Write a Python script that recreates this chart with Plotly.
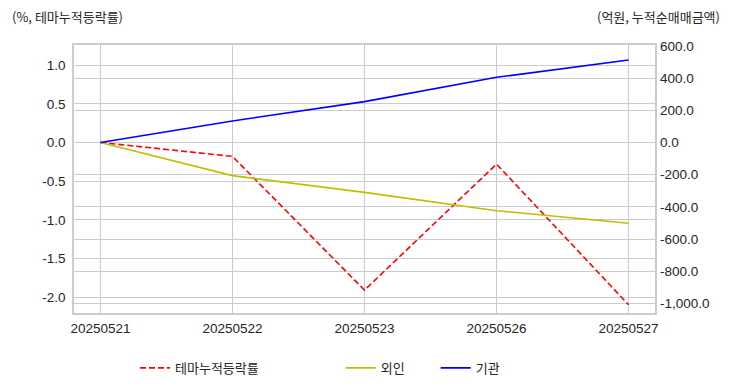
import plotly.graph_objects as go

dates = ["20250521", "20250522", "20250523", "20250526", "20250527"]
theme_pct = [0.0, -0.18, -1.91, -0.28, -2.10]
foreign_amt = [0.0, -206.0, -310.0, -424.0, -502.0]
inst_amt = [0.0, 134.0, 254.0, 405.0, 513.0]

left_ticks = [-2.0, -1.5, -1.0, -0.5, 0.0, 0.5, 1.0]
right_ticks = [-1000, -800, -600, -400, -200, 0, 200, 400, 600]
left_labels = [f"{v:.1f}" for v in left_ticks]
right_labels = [f"{v:,.1f}" for v in right_ticks]

FONT = "Liberation Sans, Arial, Noto Sans CJK KR, sans-serif"
KFONT = "Noto Sans CJK KR, Liberation Sans, sans-serif"
GRID = "#cccccc"
TXT = "#262626"

# page body has an 8px margin: figure is drawn at (8, 8)
W, H = 724, 384
L, T = 66, 37
PW, PH = 581, 268

fig = go.Figure()
fig.add_trace(go.Scatter(x=dates, y=theme_pct, mode="lines", name="테마누적등락률",
                         line=dict(color="#ff0000", width=1.6, dash="6px,3px"),
                         yaxis="y", legend="legend"))
fig.add_trace(go.Scatter(x=dates, y=foreign_amt, mode="lines", name="외인",
                         line=dict(color="#bfbf00", width=1.6),
                         yaxis="y2", legend="legend2"))
fig.add_trace(go.Scatter(x=dates, y=inst_amt, mode="lines", name="기관",
                         line=dict(color="#0000ff", width=1.6),
                         yaxis="y2", legend="legend2"))

fig.update_layout(
    width=W, height=H,
    margin=dict(l=L, r=W - L - PW, t=T, b=H - T - PH, autoexpand=False),
    paper_bgcolor="white", plot_bgcolor="white",
    font=dict(family=FONT, size=13.5, color=TXT),
    xaxis=dict(type="category", range=[-0.2, 4.2], showgrid=True, gridcolor=GRID,
               gridwidth=1, showline=True, linecolor=GRID, linewidth=1.5, mirror=True,
               ticks="", zeroline=False, ticklabelstandoff=2,
               tickfont=dict(size=13.5, color=TXT)),
    yaxis=dict(range=[-2.206, 1.261], tickmode="array", tickvals=left_ticks,
               ticktext=left_labels,
               showgrid=True, gridcolor=GRID, gridwidth=1, zeroline=False,
               showline=True, linecolor=GRID, linewidth=1.5, mirror=True,
               ticks="", ticklabelstandoff=4, tickfont=dict(size=13.5, color=TXT)),
    yaxis2=dict(range=[-1060, 606], tickmode="array", tickvals=right_ticks,
                ticktext=right_labels,
                overlaying="y", side="right", showgrid=True, gridcolor=GRID,
                gridwidth=1, zeroline=False, ticks="", showline=False,
                ticklabelstandoff=4, tickfont=dict(size=13.5, color=TXT)),
    legend=dict(orientation="h", x=0.105, y=-0.205, xanchor="left", yanchor="middle",
                font=dict(family=KFONT, size=13, color=TXT), bgcolor="rgba(0,0,0,0)"),
    legend2=dict(orientation="h", x=0.459, y=-0.205, xanchor="left", yanchor="middle",
                 entrywidth=50, entrywidthmode="pixels",
                 font=dict(family=KFONT, size=13, color=TXT), bgcolor="rgba(0,0,0,0)"),
    showlegend=True,
)

fig.add_annotation(text="(%, 테마누적등락률)", xref="paper", yref="paper",
                   x=(2 - L) / PW, y=1 + (T - 8) / PH, xanchor="left", yanchor="middle",
                   showarrow=False, font=dict(family=KFONT, size=13, color=TXT))
fig.add_annotation(text="(억원, 누적순매매금액)", xref="paper", yref="paper",
                   x=(714 - L) / PW, y=1 + (T - 8) / PH, xanchor="right",
                   yanchor="middle", showarrow=False,
                   font=dict(family=KFONT, size=13, color=TXT))

fig.write_html("out.html")
